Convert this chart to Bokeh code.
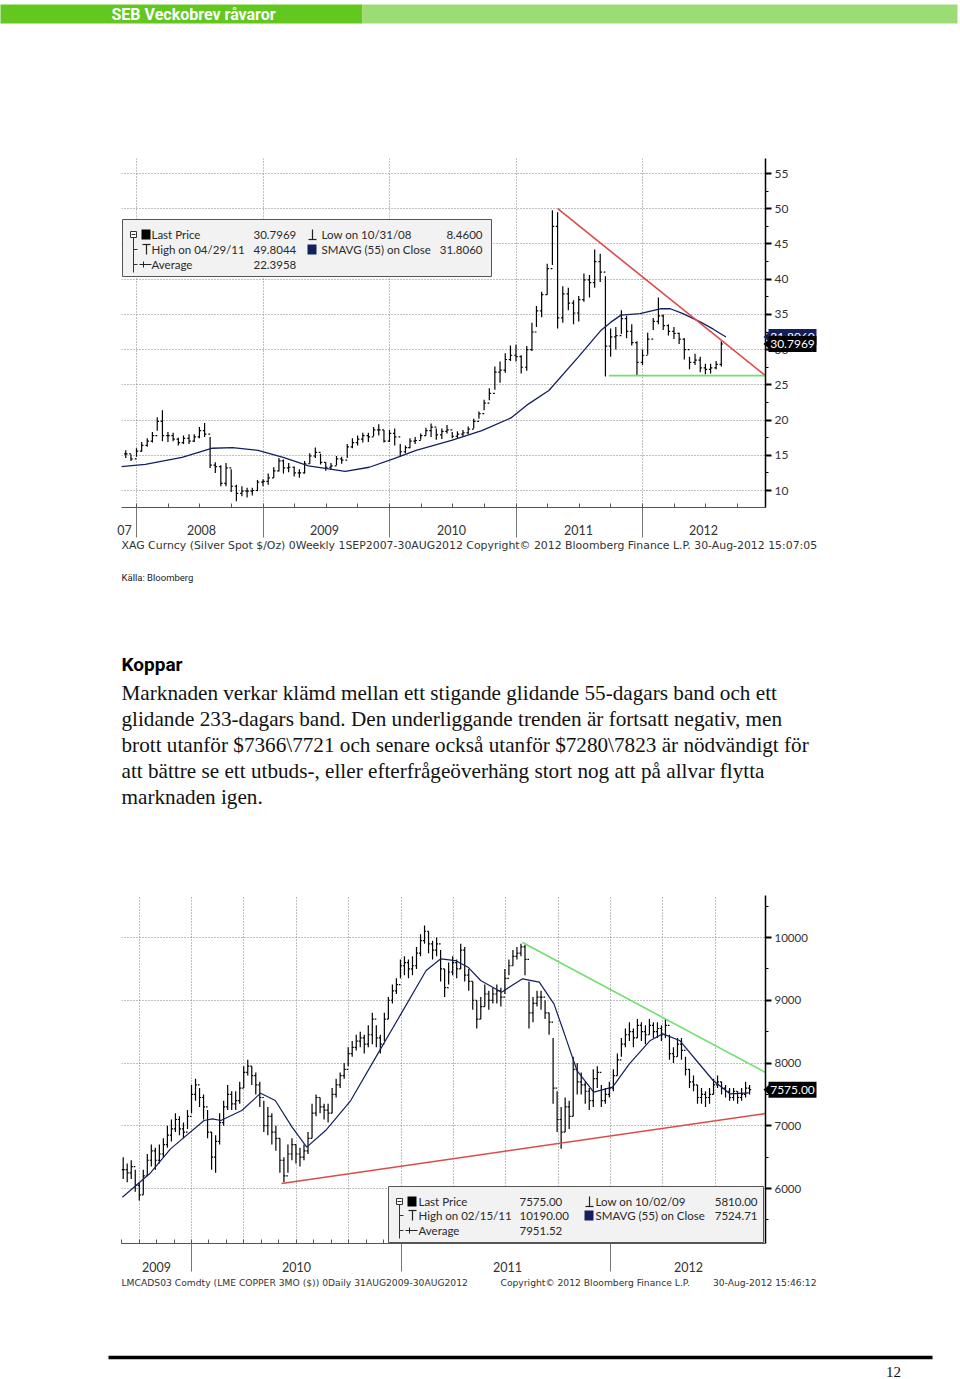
import numpy as np
import pandas as pd
from bokeh.plotting import figure
from bokeh.layouts import column
from bokeh.models import Range1d, FixedTicker
from bokeh.embed import file_html
from bokeh.resources import INLINE
from bokeh.core.properties import value

# ------------------------------------------------------------------ data
# Silver spot (XAG Curncy), semi-monthly bars (1st / 16th), Dec 2007 - Aug 2012
ag_close = [15.2, 14.5,
            15.6, 16.4, 17.0, 17.8, 19.8, 17.8, 17.8, 17.3, 16.8, 17.4, 17.0, 17.6,
            18.5, 18.0, 13.6, 13.4, 11.0, 13.2, 10.6, 9.6, 9.9, 9.9, 10.0, 11.2,
            11.3, 11.8, 12.8, 14.2, 13.2, 13.3, 12.5, 12.5, 13.8, 14.9, 15.4, 14.0,
            13.3, 13.5, 14.5, 14.3, 16.2, 16.8, 17.3, 17.8, 17.6, 18.6, 18.6, 17.0,
            18.1, 17.6, 15.5, 16.1, 17.0, 17.1, 17.8, 18.5, 19.0, 17.9, 18.4, 18.6,
            17.7, 18.0, 18.2, 18.7, 19.8, 20.9, 22.4, 23.8, 26.8, 27.1, 28.6, 29.2,
            29.0, 27.5, 30.0, 32.5, 35.5, 37.8, 41.5, 47.5, 34.5, 37.9, 36.6, 35.2,
            37.1, 39.9, 39.5, 42.5, 41.0, 30.5, 31.8, 32.0, 34.4, 32.6, 31.0, 28.2,
            29.2, 31.5, 34.0, 34.8, 33.4, 32.6, 32.3, 31.5, 30.0, 28.2, 28.5, 27.4,
            27.2, 27.4, 27.9, 30.8]
ag_high = [15.7, 15.1,
           16.0, 16.9, 17.4, 18.3, 20.4, 21.4, 18.3, 18.2, 17.5, 17.8, 18.0, 18.0,
           19.0, 19.6, 17.6, 14.0, 13.6, 13.9, 13.0, 10.8, 10.6, 10.4, 10.4, 11.5,
           11.6, 12.4, 13.3, 14.6, 14.4, 13.9, 13.4, 13.0, 14.2, 15.3, 16.1, 15.2,
           14.0, 13.9, 14.9, 14.8, 16.6, 17.4, 17.8, 18.2, 18.2, 19.0, 19.4, 18.6,
           18.6, 18.8, 16.6, 16.4, 17.4, 17.6, 18.1, 18.9, 19.5, 18.8, 18.8, 19.3,
           18.3, 18.4, 18.6, 19.1, 20.2, 21.2, 22.9, 24.5, 27.6, 28.3, 29.5, 30.6,
           30.7, 29.2, 30.5, 33.8, 36.2, 38.2, 42.2, 49.8, 49.5, 39.0, 38.8, 37.0,
           37.6, 40.8, 40.6, 44.2, 43.6, 40.4, 33.0, 33.2, 35.6, 34.8, 33.6, 31.2,
           30.0, 32.4, 34.5, 37.4, 35.0, 33.6, 33.2, 32.4, 31.6, 29.0, 29.4, 29.0,
           28.0, 28.0, 28.4, 31.2]
ag_low = [14.6, 14.2,
          14.8, 15.5, 16.2, 16.8, 18.5, 17.0, 16.9, 17.0, 16.4, 16.6, 16.6, 16.9,
          17.4, 17.6, 13.2, 12.5, 10.6, 10.6, 9.8, 8.46, 9.2, 9.0, 9.3, 9.9,
          10.6, 10.8, 11.8, 12.7, 12.4, 12.6, 12.0, 11.8, 12.4, 13.8, 14.6, 13.7,
          12.8, 12.9, 13.6, 13.8, 14.6, 16.0, 16.4, 16.8, 16.9, 17.7, 17.8, 16.8,
          16.9, 16.4, 14.8, 15.3, 16.0, 16.6, 17.2, 17.8, 17.6, 17.2, 17.3, 18.1,
          17.4, 17.4, 17.6, 18.0, 18.8, 20.2, 21.4, 22.8, 24.3, 25.3, 26.7, 28.4,
          28.3, 26.6, 27.0, 29.8, 33.2, 34.6, 37.8, 42.0, 33.0, 33.8, 35.6, 33.6,
          34.0, 36.8, 37.4, 38.8, 39.6, 26.2, 29.0, 30.0, 32.2, 31.6, 30.6, 26.3,
          27.8, 29.3, 32.8, 33.6, 32.8, 32.0, 31.5, 30.8, 28.6, 27.2, 27.8, 26.8,
          26.5, 26.6, 27.2, 27.6]
ag_sma_t = [2007.88, 2008.07, 2008.36, 2008.60, 2008.76, 2008.96, 2009.16, 2009.36,
            2009.65, 2009.84, 2010.03, 2010.21, 2010.49, 2010.73, 2010.96, 2011.10,
            2011.26, 2011.49, 2011.67, 2011.75, 2011.83, 2011.98, 2012.14, 2012.22,
            2012.32, 2012.46, 2012.56, 2012.66]
ag_sma_v = [13.4, 13.7, 14.7, 16.0, 16.1, 15.7, 14.7, 13.5, 12.7, 13.3, 14.5, 15.7,
            17.1, 18.5, 20.3, 22.3, 24.2, 28.9, 32.7, 33.9, 34.9, 35.1, 35.8, 35.8,
            35.1, 33.9, 32.9, 31.8]
ag_res_t = [2011.33, 2012.972]
ag_res_v = [50.0, 26.3]
ag_sup_t = [2011.735, 2012.972]
ag_sup_v = [26.3, 26.3]
ag_yticks = [10, 15, 20, 25, 30, 35, 40, 45, 50, 55]
ag_year_labels = ["07", "2008", "2009", "2010", "2011", "2012"]
ag_last, ag_sma_last = 30.7969, 31.8060
ag_leg_left = ["Last Price", "High on 04/29/11", "Average"]
ag_leg_left_val = ["30.7969", "49.8044", "22.3958"]
ag_leg_right = ["Low on 10/31/08", "SMAVG (55) on Close"]
ag_leg_right_val = ["8.4600", "31.8060"]

# LME copper 3M (LMCADS03), weekly bars (Fridays), Sep 2009 - Aug 2012
cu_close = [6300, 6250, 6350, 6050,
            5900, 6200, 6450, 6600, 6450, 6550, 6700, 6850, 6950, 7100, 6950, 6900, 7150,
            7500, 7650, 7450, 7300, 6900, 6500, 6750, 7050, 7300, 7500, 7350, 7400, 7600,
            7850, 7950, 7800, 7650, 7450, 7000, 7150, 6900, 6800, 6450, 6200, 6550, 6700,
            6550, 6500, 6600, 6800, 7200, 7450, 7300, 7250, 7200, 7500, 7650, 7800, 7900,
            8150, 8250, 8350, 8400, 8300, 8450, 8700, 8400, 8300, 8700, 9000, 9150, 9250, 9550,
            9600, 9500, 9550, 9750, 9950, 10100, 9900, 9800, 9900, 9500, 9200, 9450,
            9600, 9500, 9800, 9400, 9300, 9000, 8700, 8900, 9100, 9000, 9100, 9150, 9050,
            9350, 9550, 9700, 9750, 9850, 9650, 8800, 8950, 9050, 9050, 8800, 8650, 7600, 7100,
            6900, 7300, 7150, 7900, 7700, 7650, 7550, 7400, 7750, 7850, 7400, 7500, 7600,
            7800, 8050, 8300, 8450, 8500, 8400, 8600, 8500, 8450, 8600, 8500, 8550, 8450,
            8600, 8150, 8100, 8300, 8200, 7900, 7700, 7650, 7450, 7500, 7450, 7500, 7650,
            7700, 7600, 7550, 7450, 7550, 7450, 7500, 7600, 7575]
cu_high = [6500, 6400, 6450, 6300,
           6100, 6300, 6550, 6700, 6650, 6700, 6800, 7000, 7100, 7200, 7150, 7050, 7250,
           7650, 7750, 7600, 7500, 7250, 6900, 6850, 7200, 7400, 7650, 7550, 7550, 7700,
           7950, 8050, 7950, 7850, 7700, 7400, 7300, 7200, 7000, 6800, 6500, 6700, 6800,
           6700, 6650, 6700, 6900, 7350, 7500, 7450, 7350, 7350, 7600, 7750, 7850, 8000,
           8250, 8350, 8450, 8500, 8450, 8600, 8800, 8600, 8450, 8800, 9050, 9250, 9350, 9650,
           9700, 9650, 9700, 9850, 10050, 10190, 10100, 9950, 10000, 9800, 9500, 9600,
           9700, 9650, 9900, 9850, 9500, 9300, 9000, 9050, 9250, 9150, 9200, 9250, 9200,
           9500, 9650, 9800, 9850, 9900, 9880, 9300, 9050, 9150, 9150, 9000, 8800, 8400, 7550,
           7300, 7450, 7400, 8100, 8000, 7850, 7700, 7600, 7900, 7950, 7650, 7600, 7700,
           7900, 8150, 8400, 8550, 8650, 8550, 8700, 8650, 8600, 8700, 8650, 8650, 8600,
           8700, 8450, 8250, 8400, 8400, 8100, 7900, 7800, 7650, 7600, 7550, 7600, 7750,
           7800, 7700, 7650, 7600, 7600, 7550, 7600, 7700, 7650]
cu_low = [6150, 6100, 6150, 5950,
          5810, 5900, 6200, 6350, 6300, 6400, 6500, 6650, 6750, 6900, 6850, 6800, 6950,
          7200, 7400, 7300, 7100, 6800, 6300, 6250, 6700, 7000, 7250, 7250, 7250, 7350,
          7600, 7800, 7650, 7500, 7300, 6900, 6850, 6700, 6600, 6250, 6100, 6250, 6450,
          6400, 6350, 6450, 6550, 6800, 7150, 7200, 7100, 7050, 7200, 7450, 7600, 7750,
          7950, 8100, 8200, 8250, 8150, 8250, 8300, 8250, 8150, 8350, 8700, 8950, 9100, 9350,
          9400, 9350, 9400, 9500, 9700, 9900, 9750, 9650, 9700, 9300, 9050, 9250,
          9400, 9350, 9500, 9300, 9150, 8850, 8550, 8700, 8900, 8850, 8950, 8950, 8900,
          9100, 9400, 9550, 9650, 9700, 9400, 8550, 8650, 8900, 8850, 8700, 8450, 7350, 6900,
          6635, 6900, 6950, 7150, 7500, 7500, 7350, 7250, 7300, 7600, 7300, 7350, 7450,
          7550, 7800, 8100, 8250, 8350, 8250, 8400, 8350, 8300, 8450, 8400, 8400, 8350,
          8400, 8050, 8000, 8100, 8050, 7800, 7600, 7550, 7350, 7350, 7300, 7350, 7500,
          7600, 7500, 7450, 7400, 7400, 7350, 7400, 7450, 7500]
cu_sma_t = [2009.67, 2009.80, 2009.90, 2010.06, 2010.10, 2010.14, 2010.24, 2010.33,
            2010.40, 2010.48, 2010.55, 2010.64, 2010.76, 2010.88, 2011.00, 2011.12,
            2011.19, 2011.26, 2011.32, 2011.38, 2011.48, 2011.58, 2011.66, 2011.73,
            2011.78, 2011.84, 2011.92, 2012.01, 2012.09, 2012.19, 2012.25, 2012.33,
            2012.41, 2012.49, 2012.57, 2012.66]
cu_sma_v = [5860, 6234, 6632, 7084, 7110, 7084, 7243, 7519, 7402, 6977, 6659, 6924,
            7402, 8093, 8783, 9474, 9660, 9633, 9527, 9315, 9129, 9341, 9288, 8943,
            8465, 7880, 7535, 7615, 7987, 8359, 8465, 8359, 8040, 7721, 7509, 7525]
cu_res_t = [2011.58, 2012.74]
cu_res_v = [9920, 7849]
cu_sup_t = [2010.43, 2012.74]
cu_sup_v = [6080, 7195]
cu_yticks = [6000, 7000, 8000, 9000, 10000]
cu_year_labels = ["2009", "2010", "2011", "2012"]
cu_last = 7575.00
cu_leg_left = ["Last Price", "High on 02/15/11", "Average"]
cu_leg_left_val = ["7575.00", "10190.00", "7951.52"]
cu_leg_right = ["Low on 10/02/09", "SMAVG (55) on Close"]
cu_leg_right_val = ["5810.00", "7524.71"]

para = ["Marknaden verkar klämd mellan ett stigande glidande 55-dagars band och ett",
        "glidande 233-dagars band. Den underliggande trenden är fortsatt negativ, men",
        "brott utanför $7366\\7721 och senare också utanför $7280\\7823 är nödvändigt för",
        "att bättre se ett utbuds-, eller efterfrågeöverhäng stort nog att på allvar flytta",
        "marknaden igen."]

# ------------------------------------------------------------------ helpers
W = 960
FL, FR = 121, 765          # frame edges on the page (all figures share them)
CF = "Lato"                # chart font
FOOT = "DejaVu Sans"       # chart footer font
SERIF = "Liberation Serif"
NAVY = "#14205e"
TXT = "#2a2a2a"


def frac_year(ts):
    a = pd.Timestamp(year=ts.year, month=1, day=1)
    b = pd.Timestamp(year=ts.year + 1, month=1, day=1)
    return ts.year + (ts - a) / (b - a)


class Frame:
    """maps page pixels to data coordinates of a figure frame"""
    def __init__(self, py0, py1, x0, x1, ybot, ytop):
        self.py0, self.py1 = py0, py1
        self.x0, self.x1, self.ybot, self.ytop = x0, x1, ybot, ytop

    def X(self, px):
        return self.x0 + (px - FL) / (FR - FL) * (self.x1 - self.x0)

    def Y(self, py):
        return self.ytop - (py - self.py0) / (self.py1 - self.py0) * (self.ytop - self.ybot)


def band(h, top):
    F = Frame(top, top + h, FL, FR, top + h, top)   # page pixel coordinates
    p = figure(width=W, height=h, x_range=Range1d(FL, FR), y_range=Range1d(top + h, top),
               x_axis_type=None, y_axis_type=None, output_backend="svg",
               toolbar_location=None, tools="", min_border_left=FL,
               min_border_right=W - FR, min_border_top=0, min_border_bottom=0)
    p.grid.visible = False
    p.outline_line_color = None
    return p, F


def chart(h, top, F):
    p = figure(width=W, height=h, x_range=Range1d(F.x0, F.x1),
               y_range=Range1d(F.ybot, F.ytop), y_axis_location="right",
               output_backend="svg", toolbar_location=None, tools="",
               min_border_left=FL, min_border_right=W - FR,
               min_border_top=F.py0 - top, min_border_bottom=top + h - F.py1)
    p.outline_line_color = None
    return p


def txt(p, F, px, py, text, size, color=TXT, font=CF, align="left", style="normal"):
    p.text(x=[F.X(px)], y=[F.Y(py)], text=[text], text_font=value(font),
           text_font_size=value(f"{size}px"), text_color=color, text_align=align,
           text_baseline="middle", text_font_style=style, level="annotation")


def box(p, F, l, r, t, b, fill, line=None):
    p.quad(left=[F.X(l)], right=[F.X(r)], top=[F.Y(t)], bottom=[F.Y(b)],
           fill_color=fill, line_color=line, level="annotation")


def ohlc(p, xs, hi, lo, cl, dx, lw):
    xs = np.asarray(xs, dtype=float)
    op = [cl[0]] + list(cl[:-1])
    p.segment(xs, lo, xs, hi, line_color="black", line_width=lw)
    p.segment(xs, cl, xs + dx, cl, line_color="black", line_width=lw)
    p.segment(xs - dx, op, xs, op, line_color="black", line_width=lw)


def style_axes(p, yticks, yminor, xmajor, xminor, sep_len, ysize):
    ax = p.yaxis[0]
    ax.ticker = FixedTicker(ticks=yticks, minor_ticks=yminor)
    ax.axis_line_color = "black"
    ax.axis_line_width = 1.5
    ax.major_tick_out, ax.major_tick_in = 6, 0
    ax.major_tick_line_width = 2
    ax.major_tick_line_color = "black"
    ax.minor_tick_out, ax.minor_tick_in = 3, 0
    ax.minor_tick_line_color = "black"
    ax.major_label_standoff = 3
    ax.major_label_text_font = CF
    ax.major_label_text_font_size = f"{ysize}px"
    ax.major_label_text_color = "#333333"
    bx = p.xaxis[0]
    bx.ticker = FixedTicker(ticks=xmajor, minor_ticks=xminor)
    bx.major_label_overrides = {t: "" for t in xmajor}
    bx.axis_line_color = "#555555"
    bx.major_tick_out, bx.major_tick_in = sep_len, 0
    bx.major_tick_line_color = "#777777"
    bx.minor_tick_in, bx.minor_tick_out = 4, 0
    bx.minor_tick_line_color = "#555555"
    p.ygrid.grid_line_dash = "1 2"
    p.ygrid.grid_line_color = "#808080"
    p.xgrid.grid_line_dash = "1 2"
    p.xgrid.grid_line_color = "#808080"


def legend(p, F, L, R, T, B, rows, xtxt, xval, xmark, xtxt2, xval2, left, lval, right, rval):
    box(p, F, L, R, T, B, "#f2f2f2", "#555555")
    r1, r2, r3 = rows
    tx = L + 11
    box(p, F, tx - 3, tx + 3, r1 - 3, r1 + 3, "white", "#333333")
    p.segment([F.X(tx - 2), F.X(tx), F.X(tx), F.X(tx)],
              [F.Y(r1), F.Y(r1 + 3), F.Y(r2), F.Y(r3)],
              [F.X(tx + 2), F.X(tx), F.X(tx + 4), F.X(tx + 4)],
              [F.Y(r1), F.Y(r3 + 8), F.Y(r2), F.Y(r3)],
              line_color="#333333", line_width=1, level="annotation")
    box(p, F, L + 19, L + 28, r1 - 5, r1 + 5, "black")
    p.segment([F.X(L + 20), F.X(L + 24)], [F.Y(r2 - 5), F.Y(r2 - 5)],
              [F.X(L + 28), F.X(L + 24)], [F.Y(r2 - 5), F.Y(r2 + 5)],
              line_color="#222222", line_width=1.2, level="annotation")
    p.segment([F.X(L + 17)], [F.Y(r3)], [F.X(L + 29)], [F.Y(r3)],
              line_color="#222222", line_width=1, level="annotation")
    p.scatter([F.X(L + 21)], [F.Y(r3)], marker="cross", size=6, line_color="#222222",
              level="annotation")
    p.segment([F.X(xmark), F.X(xmark - 4)], [F.Y(r1 - 5), F.Y(r1 + 5)],
              [F.X(xmark), F.X(xmark + 4)], [F.Y(r1 + 5), F.Y(r1 + 5)],
              line_color="#222222", line_width=1.2, level="annotation")
    box(p, F, xmark - 5, xmark + 4, r2 - 5, r2 + 5, NAVY)
    for ry, t, v in zip(rows, left, lval):
        txt(p, F, xtxt, ry, t, 11.5)
        txt(p, F, xval, ry, v, 11.5)
    for ry, t, v in zip(rows[:2], right, rval):
        txt(p, F, xtxt2, ry, t, 11.5)
        txt(p, F, xval2, ry, v, 11.5, align="right")


def price_box(p, F, v, text, fill):
    py = F.py0 + (F.ytop - v) / (F.ytop - F.ybot) * (F.py1 - F.py0)
    half = (F.ytop - F.ybot) * 8 / (F.py1 - F.py0)
    p.quad(left=[F.X(768)], right=[F.X(816)], top=[v + half], bottom=[v - half],
           fill_color=fill, line_color=None, level="annotation")
    p.patch([F.X(763), F.X(768.5), F.X(768.5)], [v, v + half * 0.6, v - half * 0.6],
            fill_color=fill, line_color=None, level="annotation")
    txt(p, F, 792, py, text, 12, color="white", align="center")


# ------------------------------------------------------------------ header band
hdr, HF = band(30, 0)
box(hdr, HF, 0, 362, 4, 23, "#62c71f")
box(hdr, HF, 362, 957, 4, 23, "#9cdc75")
txt(hdr, HF, 111, 14, "SEB Veckobrev råvaror", 16, color="white", font="Roboto",
    style="bold")

# ------------------------------------------------------------------ silver chart
AG = Frame(158, 507, 2008 + (FL - 136) / 126.5, 2008 + (FR - 136) / 126.5,
           10 + (490 - 507) / 7.044, 10 + (490 - 158) / 7.044)
pa = chart(570, 30, AG)
style_axes(pa, ag_yticks, [7.5 + 2.5 * i for i in range(21)],
           [2008, 2009, 2010, 2011, 2012], [2007.75 + 0.25 * i for i in range(21)], 30, 12)

ag_months = pd.period_range("2007-12", "2012-08", freq="M")
ag_dates = [pd.Timestamp(year=m.year, month=m.month, day=d) for m in ag_months for d in (1, 16)]
ag_x = [frac_year(t) for t in ag_dates]
ohlc(pa, ag_x, ag_high, ag_low, ag_close, 0.014, 1.2)
pa.line(ag_sma_t, ag_sma_v, line_color=NAVY, line_width=1.3)
pa.line(ag_res_t, ag_res_v, line_color="#dc4b4b", line_width=1.6)
pa.line(ag_sup_t, ag_sup_v, line_color="#6fe06f", line_width=1.8)

legend(pa, AG, 122, 491, 219, 276, (234, 249, 264), 151, 253, 312, 321, 482,
       ag_leg_left, ag_leg_left_val, ag_leg_right, ag_leg_right_val)

price_box(pa, AG, ag_sma_last, f"{ag_sma_last:.4f}", NAVY)
price_box(pa, AG, ag_last, f"{ag_last:.4f}", "black")

for t, px in zip(ag_year_labels, [124, 201, 324, 451, 578, 703]):
    txt(pa, AG, px, 529, t, 12.5, color="#333333", align="center")
txt(pa, AG, 121, 545,
    "XAG Curncy (Silver Spot  $/Oz) 0Weekly 1SEP2007-30AUG2012  "
    "Copyright© 2012 Bloomberg Finance L.P.  30-Aug-2012 15:07:05",
    10.9, color="#333333", font=FOOT)
txt(pa, AG, 121, 577, "Källa: Bloomberg", 9.5, color="#222222", font="Roboto")

# ------------------------------------------------------------------ text band
tb, TF = band(280, 600)
txt(tb, TF, 121, 664, "Koppar", 19, color="black", font="Roboto", style="bold")
for i, line in enumerate(para):
    txt(tb, TF, 121, 692 + 26 * i, line, 21.2, color="#111111", font=SERIF)

# ------------------------------------------------------------------ copper chart
CU = Frame(895, 1243, 2010 + (FL - 191) / 209.5, 2010 + (FR - 191) / 209.5,
           6000 + (1188 - 1243) / 0.06275, 6000 + (1188 - 895) / 0.06275)
pc = chart(420, 880, CU)
style_axes(pc, cu_yticks, [5500 + 500 * i for i in range(11)],
           [2010, 2011, 2012], [2009 + m / 12 for m in range(8, 45)], 28, 11.5)
pc.xgrid.ticker = FixedTicker(ticks=[2009.75 + 0.25 * i for i in range(12)])

cu_dates = pd.date_range("2009-09-04", periods=len(cu_close), freq="7D")
cu_x = [frac_year(t) for t in cu_dates]
ohlc(pc, cu_x, cu_high, cu_low, cu_close, 0.0075, 1.2)
pc.line(cu_sma_t, cu_sma_v, line_color=NAVY, line_width=1.2)
pc.line(cu_res_t, cu_res_v, line_color="#6fe06f", line_width=1.6)
pc.line(cu_sup_t, cu_sup_v, line_color="#dc4b4b", line_width=1.6)

legend(pc, CU, 388, 763, 1186, 1242, (1201, 1215, 1230), 418, 519, 589, 595, 757,
       cu_leg_left, cu_leg_left_val, cu_leg_right, cu_leg_right_val)

price_box(pc, CU, cu_last, f"{cu_last:.2f}", "black")
for t, px in zip(cu_year_labels, [156, 296, 507, 688]):
    txt(pc, CU, px, 1266, t, 12.5, color="#333333", align="center")
txt(pc, CU, 121, 1282, "LMCADS03 Comdty (LME COPPER   3MO ($)) 0Daily 31AUG2009-30AUG2012",
    9.2, color="#333333", font=FOOT)
txt(pc, CU, 500, 1282, "Copyright© 2012 Bloomberg Finance L.P.", 9.2, color="#333333",
    font=FOOT)
txt(pc, CU, 816, 1282, "30-Aug-2012 15:46:12", 9.2, color="#333333", align="right",
    font=FOOT)

# ------------------------------------------------------------------ footer band
ft, FF = band(79, 1300)
ft.segment(x0=[108], y0=[1357], x1=[932], y1=[1357], line_color="black", line_width=3.5,
           level="annotation")
txt(ft, FF, 893, 1371, "12", 15, color="#111111", font=SERIF, align="center")

page = column(hdr, pa, tb, pc, ft, spacing=0)
open("out.html", "w").write(file_html(page, INLINE))
